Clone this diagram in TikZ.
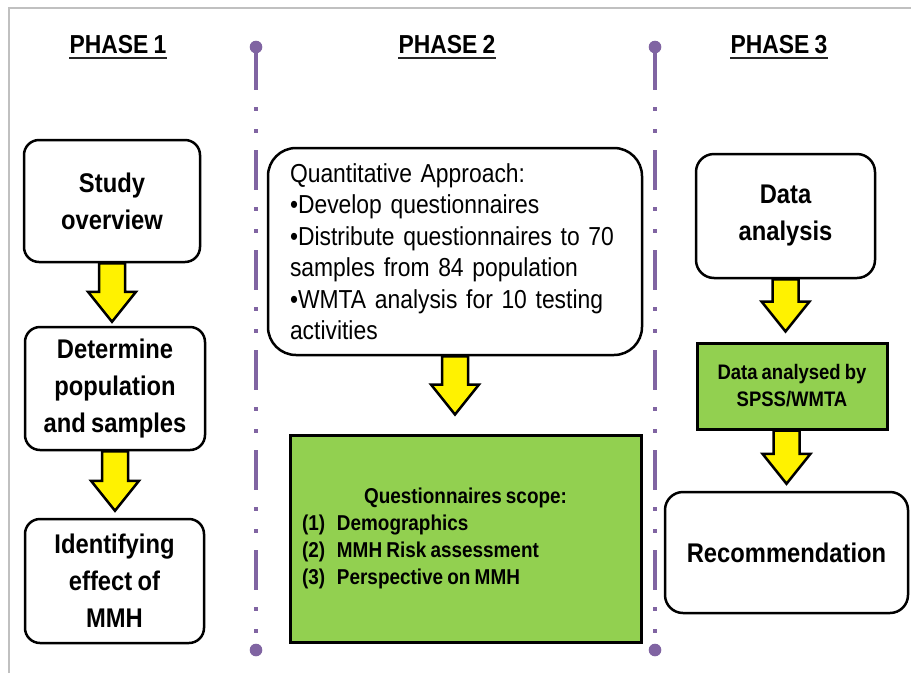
\documentclass[tikz,border=0pt]{standalone}
\usepackage{fontspec}
\setmainfont{Liberation Sans}[FakeStretch=0.88, WordSpace=0.8]
\usetikzlibrary{calc}
\definecolor{divpurple}{HTML}{8064A2}
\definecolor{boxgreen}{HTML}{92D050}
\definecolor{framegray}{HTML}{C0C0C0}
\tikzset{
  yarrowstyle/.style={fill=yellow, draw=black, line width=2.5pt, line join=miter},
  rbox/.style={draw=black, line width=2.5pt, rounded corners=15pt, fill=white, align=center,
    font=\fontsize{27}{37}\selectfont\bfseries, inner sep=0pt},
  gbox/.style={draw=black, line width=3pt, fill=boxgreen, align=center, inner sep=0pt},
  phasetitle/.style={anchor=base, inner sep=0pt, font=\fontsize{26}{30}\selectfont\bfseries},
  divider/.style={divpurple, line width=4pt,
    dash pattern=on 40pt off 17pt on 4pt off 18pt on 4pt off 17pt},
  uline/.style={line width=2pt, black!85}
}
\newcommand{\yarrow}[4]{%
  \path[yarrowstyle] let \p1=(#1.south), \p2=(#2.north), \p3=(#4.center) in
    (\x3-13pt,\y1) -- (\x3-13pt,\y2+#3+30pt) -- (\x3-24pt,\y2+#3+30pt) -- (\x3,\y2+#3)
    -- (\x3+24pt,\y2+#3+30pt) -- (\x3+13pt,\y2+#3+30pt) -- (\x3+13pt,\y1) -- cycle;}
\begin{document}
\begin{tikzpicture}[x=1pt,y=-1pt]
\useasboundingbox (0,0) rectangle (911,673);
\fill[white] (0,0) rectangle (911,673);
\draw[framegray, line width=1.5pt] (9,673) -- (9,8) -- (911,8);

% dividers
\foreach \xx in {256,655} {
  \draw[divider] (\xx,50) -- (\xx,650);
  \fill[divpurple] (\xx,47) circle (6.3pt);
  \fill[divpurple] (\xx,650) circle (6.3pt);
}

% titles
\node[phasetitle] (p1) at (118,53) {PHASE 1};
\node[phasetitle] (p2) at (447,53) {PHASE 2};
\node[phasetitle] (p3) at (779,53) {PHASE 3};
\foreach \p in {p1,p2,p3} {
  \draw[uline] ([yshift=-4.5pt]\p.base west) -- ([yshift=-4.5pt]\p.base east);
}

% phase 1
\node[rbox, minimum width=176pt, minimum height=122pt] (s1) at (112,201) {Study\\overview};
\node[rbox, minimum width=180pt, minimum height=123pt] (s2) at (115,388.5) {Determine\\population\\and samples};
\node[rbox, minimum width=179pt, minimum height=124pt] (s3) at (114.5,581) {Identifying\\effect of\\MMH};

% phase 2
\node[rbox, rounded corners=28pt, minimum width=374pt, minimum height=207pt, align=left,
  text width=330pt, font=\fontsize{26}{31.5}\selectfont] (q) at (455,251.5)
  {Quantitative Approach:\\•Develop questionnaires\\•Distribute questionnaires to 70\\samples from 84 population\\•WMTA analysis for 10 testing\\activities};
\node[gbox, minimum width=351pt, minimum height=207pt, font=\fontsize{21.5}{27}\selectfont\bfseries] (g) at (465.5,538.5)
  {Questionnaires scope:\\
   \makebox[327pt][l]{\makebox[35pt][l]{(1)}Demographics}\\
   \makebox[327pt][l]{\makebox[35pt][l]{(2)}MMH Risk assessment}\\
   \makebox[327pt][l]{\makebox[35pt][l]{(3)}Perspective on MMH}};

% phase 3
\node[rbox, rounded corners=18pt, minimum width=179pt, minimum height=124pt] (d) at (785.5,216) {Data\\analysis};
\node[gbox, minimum width=190pt, minimum height=86pt, font=\fontsize{21}{27}\selectfont\bfseries] (g2) at (792,386) {Data analysed by\\SPSS/WMTA};
\node[rbox, rounded corners=18pt, minimum width=243pt, minimum height=121pt] (r) at (786.5,552.5) {Recommendation};

% block arrows
\yarrow{s1}{s2}{4pt}{s1}
\yarrow{s2}{s3}{7pt}{s2}
\yarrow{q}{g}{19pt}{q}
\yarrow{d}{g2}{10pt}{d}
\yarrow{g2}{r}{7pt}{r}
\end{tikzpicture}
\end{document}
